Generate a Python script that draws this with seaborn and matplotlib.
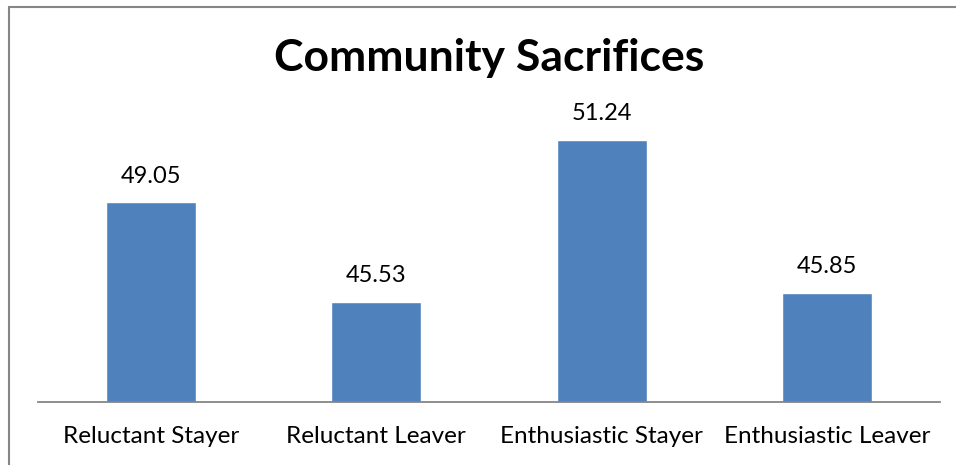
import matplotlib
matplotlib.use("Agg")
import matplotlib.pyplot as plt
import seaborn as sns
import pandas as pd
from matplotlib.lines import Line2D

categories = ["Reluctant Stayer", "Reluctant Leaver", "Enthusiastic Stayer", "Enthusiastic Leaver"]
values = [49.05, 45.53, 51.24, 45.85]
title = "Community Sacrifices"

sns.set_style("white")
plt.rcParams['font.family'] = ['Lato', 'DejaVu Sans']

df = pd.DataFrame({"cat": categories, "val": values})

W, H = 956, 465
fig = plt.figure(figsize=(W / 100, H / 100), dpi=100)
ax = fig.add_axes([38 / W, 1 - 402 / H, (940 - 38) / W, (402 - 118) / H])

sns.barplot(data=df, x="cat", y="val", color="#4F81BD", saturation=1, width=0.4, ax=ax)
ax.set_ylim(42, 52)
ax.set_xlim(-0.5, 3.5)
ax.set_xlabel("")
ax.set_ylabel("")
ax.set_yticks([])
for s in ["top", "right", "left"]:
    ax.spines[s].set_visible(False)
ax.spines["bottom"].set_color("#868686")
ax.spines["bottom"].set_linewidth(1.3)
ax.tick_params(axis="x", length=0, pad=17, labelsize=17.5)
for lab in ax.get_xticklabels():
    lab.set_color("black")

for i, v in enumerate(values):
    ax.annotate(f"{v:.2f}", xy=(i, v), xytext=(0, 11), textcoords="offset points",
                ha="center", va="bottom", fontsize=17, color="black")

fig.text(489 / W, 1 - 58 / H, title, ha="center", va="center",
         fontsize=32, fontweight="bold", color="black")

# chart border
fig.add_artist(Line2D([9 / W, 9 / W], [0, 1 - 7 / H], transform=fig.transFigure,
                      color="#868686", lw=1.5))
fig.add_artist(Line2D([9 / W, 1], [1 - 7 / H, 1 - 7 / H], transform=fig.transFigure,
                      color="#868686", lw=1.5))

fig.savefig("out.png", dpi=100)
